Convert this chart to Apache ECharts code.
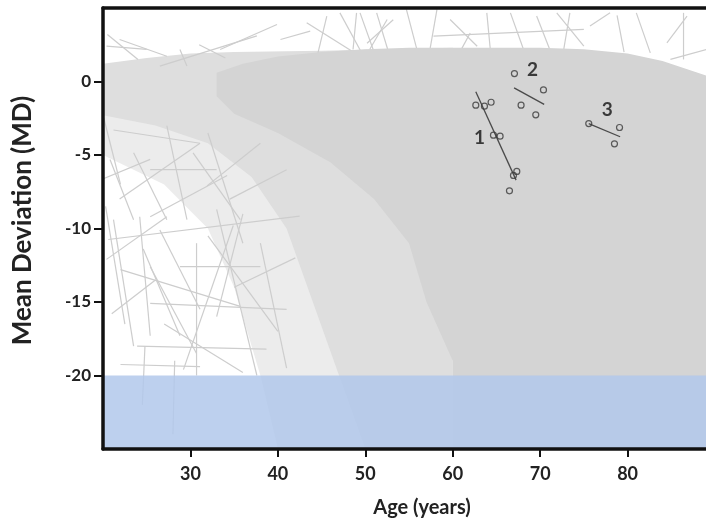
<!DOCTYPE html>
<html><head><meta charset="utf-8">
<script src="https://cdn.jsdelivr.net/npm/echarts@6/dist/echarts.min.js"></script>
<style>html,body{margin:0;padding:0;background:#fff}#c{width:706px;height:521px}</style>
</head><body><div id="c"></div>
<script>
// axis ticks
const xTicks = [30, 40, 50, 60, 70, 80];
const yTicks = [-20, -15, -10, -5, 0];

// dense core of individual MD trajectories (outline)
const corePoly = [[33,0.6],[36,1.2],[40,1.7],[45,2.0],[50,2.2],[55,2.3],[60,2.3],[65,2.3],[70,2.3],[75,2.2],[80,1.9],[84,1.4],[87,0.8],[90,0.2],
  [90,-25],[60,-25],[60,-19],[57,-15],[55,-11],[51,-8],[46,-5.5],[40,-3.5],[35,-2.2],[33,-1]];
// mesh region around the core
const meshPoly = [[20,1.2],[25,1.6],[30,1.9],[35,2.0],[45,2.1],[60,2.3],
  [60,-25],[50,-25],[47,-20],[44,-15],[41,-10],[37,-6.5],[32,-4.2],[26,-3],[20,-2.3]];
// lighter, looser mesh
const lightPoly = [[20,-1.5],[30,-2.5],[40,-3.5],[60,-3.5],
  [60,-25],[40,-25],[38,-20],[35,-14],[32,-10],[27,-7],[20,-5]];

// sparse individual trajectories [x1, y1, x2, y2]
const sparseSegments = [
  [20.6,-10.75,42.5,-9.16],[21.2,-9.4,23.5,-18.0],[24.2,-9.2,25.4,-17.3],[22,-12.8,35.7,-15.3],
  [25.4,-15.1,41,-15.5],[23.9,-18.0,38.7,-18.2],[22,-19.25,31.1,-19.4],[25.4,-12.6,30.7,-18.5],
  [26.5,-10.1,31.1,-15.5],[28.8,-12.6,38,-12.6],[30.7,-11,30.7,-20],[33,-8.7,37.6,-20],
  [34.9,-9.8,29.2,-19.6],[20.4,-12.1,27.3,-9.2],[24.6,-11.4,28.8,-17.3],[20.3,-8.5,22.5,-16.5],
  [32,-10.5,40,-17],[36,-9,33,-16],[27,-16.5,36,-19.8],[38,-11,41,-19.5],[21,-15.8,26,-13.5],
  [35,-14,42,-12],[20.8,-5.3,23.5,-9.4],[21.9,-8.0,31.1,-4.2],[23.5,-4.85,27.3,-9.4],
  [25.4,-6.0,33,-6.0],[27.3,-3.0,29.6,-9.4],[30.3,-4.85,35.7,-9.4],[31.9,-7.1,38,-4.2],
  [19.7,-6.7,25.4,-5.3],[34.5,-8.0,41,-6.0],[21.2,-3.3,31.1,-4.2],[25.4,-9.2,34.2,-6.4],
  [20.1,-2.5,22,-7],[32,-3.5,36,-11],[24.5,-22,24.8,-18],[28,-24,28.2,-19],
  [33.4,2.18,39.9,3.88],[40.3,2.86,43.7,3.43],[43.3,4.0,49.4,1.72],[45.6,4.45,44.5,1.72],
  [47.1,4.67,49.8,1.72],[49,4.67,48.6,2.18],[51.3,4.67,52.8,1.72],[53.2,4.2,50.2,2.6],
  [21.9,2.86,27.3,1.72],[20.4,2.4,25,2.18],[28.8,2.18,29.6,1.05],[26.5,1.05,37.6,3.1],
  [49.4,4.67,50.9,2.18],[52.5,4.22,50.5,2.18],[54.7,4.9,55.9,2.18],[58.2,4.9,57.4,2.18],
  [59.7,4.22,62.8,2.4],[63.9,4.67,64.3,2.18],[66.6,4.67,68.1,2.18],[69.6,4.45,71.1,2.18],
  [71.9,4.67,75,2.4],[73.4,4.67,72.7,2.18],[75.7,3.77,78,4.67],[81,4.67,82.6,1.95],
  [84.5,2.63,86.8,4.45],[86.4,4.67,86.4,1.5],[57.8,3.08,75,3.54],[84.9,1.5,89,2.18],
  [20.5,3.2,24,1.5],[31,2.5,34,1.6],[62,3.3,61,2.2],[78.8,4.5,79.6,2.0]
];

// highlighted patients
const p1Ages = [62.64, 63.63, 64.39, 64.66, 65.42, 67.33, 66.95, 66.49];
const p1MD   = [-1.61, -1.68, -1.41, -3.65, -3.72, -6.12, -6.39, -7.44];
const p1Fit  = [[62.64, -0.70], [67.25, -6.71]];
const p2Ages = [67.06, 70.38, 67.82, 69.5];
const p2MD   = [0.54, -0.57, -1.61, -2.27];
const p2Fit  = [[67.02, -0.43], [70.46, -1.56]];
const p3Ages = [75.56, 79.08, 78.5];
const p3MD   = [-2.86, -3.13, -4.24];
const p3Fit  = [[75.56, -2.86], [79.15, -3.76]];
const patientLabels = ['1', '2', '3'];
const labelPos = [[63.06, -3.83], [69.12, 0.82], [77.67, -1.9]];

// blue floor band
const bandRange = [[20, -20], [90, -25]];

const zip = (a, b) => a.map((v, i) => [v, b[i]]);

function polySeries(pts, color, z) {
  return {
    type: 'custom', z: z, clip: true, silent: true,
    data: [0],
    renderItem: function (params, api) {
      return { type: 'polygon', shape: { points: pts.map(p => api.coord(p)) }, style: { fill: color } };
    }
  };
}

const chart = echarts.init(document.getElementById('c'), null, { renderer: 'canvas' });
const font = 'Lato, "Open Sans", sans-serif';
chart.setOption({
  animation: false,
  backgroundColor: '#fff',
  grid: { left: 103, top: 8, right: -9, bottom: 72, containLabel: false, outerBoundsMode: 'none' },
  xAxis: [{
    type: 'value', min: 20, max: 90, interval: 10, z: 10,
    name: 'Age (years)', nameLocation: 'middle', nameGap: 49,
    nameTextStyle: { fontFamily: font, fontWeight: 'bold', fontSize: 20, color: '#222', padding: [0, 0, 0, 26] },
    axisLine: { show: true, onZero: false, lineStyle: { color: '#111', width: 3.5 } },
    axisTick: { show: true, customValues: xTicks, length: 8, lineStyle: { color: '#111', width: 2 } },
    axisLabel: { customValues: xTicks, fontFamily: font, fontWeight: 'bold', fontSize: 18, color: '#222', margin: 16 },
    splitLine: { show: false }
  }, {
    type: 'value', min: 20, max: 90, position: 'top', z: 10,
    axisLine: { show: true, onZero: false, lineStyle: { color: '#111', width: 3.5 } },
    axisTick: { show: false }, axisLabel: { show: false }, splitLine: { show: false }
  }],
  yAxis: {
    type: 'value', min: -25, max: 5, interval: 5, z: 10,
    name: 'Mean Deviation (MD)', nameLocation: 'middle', nameGap: 67, nameRotate: 90,
    nameTextStyle: { fontFamily: font, fontWeight: 'bold', fontSize: 26, color: '#222', padding: [0, 0, 0, 16] },
    axisLine: { show: true, onZero: false, lineStyle: { color: '#111', width: 3.5 } },
    axisTick: { show: true, customValues: yTicks, length: 9, lineStyle: { color: '#111', width: 2 } },
    axisLabel: { customValues: yTicks, fontFamily: font, fontWeight: 'bold', fontSize: 17, color: '#222', margin: 12 },
    splitLine: { show: false }
  },
  series: [
    polySeries(lightPoly, '#ececec', 1),
    polySeries(meshPoly, '#dedede', 2),
    {
      type: 'custom', z: 3, clip: true, silent: true,
      data: sparseSegments,
      renderItem: function (params, api) {
        const a = api.coord([api.value(0), api.value(1)]);
        const b = api.coord([api.value(2), api.value(3)]);
        return { type: 'line', shape: { x1: a[0], y1: a[1], x2: b[0], y2: b[1] }, style: { stroke: '#cdcdcd', lineWidth: 1.2 } };
      }
    },
    polySeries(corePoly, '#d4d4d4', 4),
    {
      type: 'custom', z: 5, clip: true, silent: true,
      data: [0],
      renderItem: function (params, api) {
        const a = api.coord(bandRange[0]);
        const b = api.coord(bandRange[1]);
        return { type: 'rect', shape: { x: a[0], y: a[1], width: b[0] - a[0], height: b[1] - a[1] }, style: { fill: 'rgba(177,200,235,0.85)' } };
      }
    },
    ...[p1Fit, p2Fit, p3Fit].map(d => ({
      type: 'line', z: 6, data: d, showSymbol: false, silent: true,
      lineStyle: { color: '#4a4a4a', width: 1.3 }
    })),
    ...[zip(p1Ages, p1MD), zip(p2Ages, p2MD), zip(p3Ages, p3MD)].map(d => ({
      type: 'scatter', z: 7, data: d, symbol: 'circle', symbolSize: 6, silent: true,
      itemStyle: { color: 'rgba(0,0,0,0)', borderColor: '#3a3a3a', borderWidth: 1.2 }
    })),
    {
      type: 'scatter', z: 8, symbolSize: 0, silent: true,
      data: labelPos.map((p, i) => ({ value: p, name: patientLabels[i] })),
      label: { show: true, position: 'inside', formatter: '{b}', fontFamily: font, fontWeight: 'bold', fontSize: 19, color: '#111' }
    }
  ]
});
</script></body></html>
